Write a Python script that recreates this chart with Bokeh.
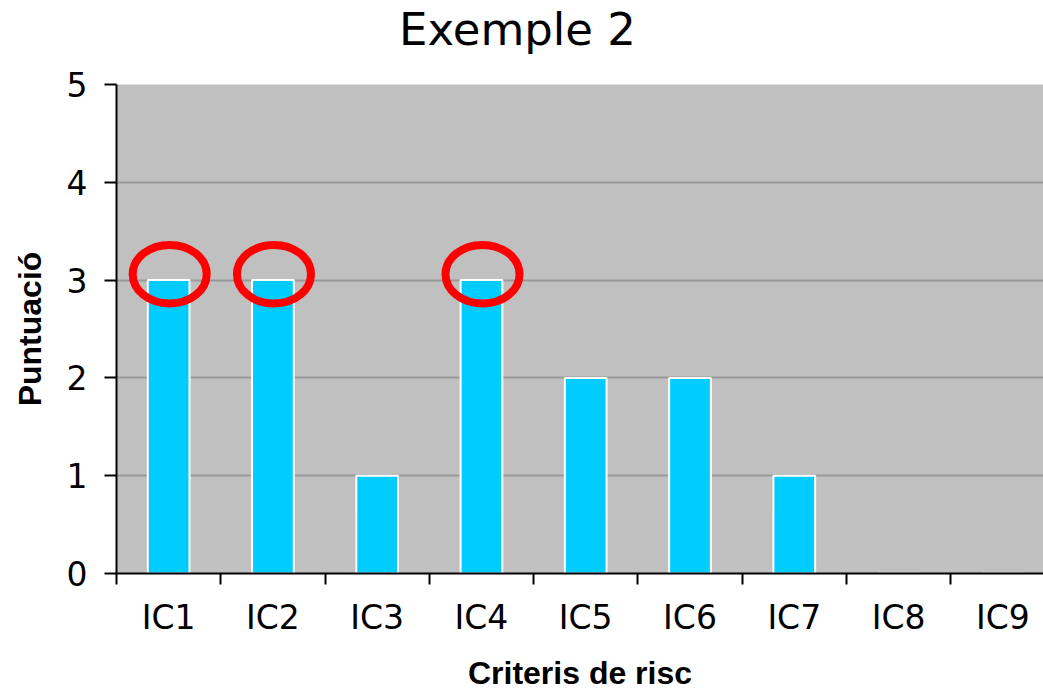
from bokeh.plotting import figure
from bokeh.layouts import column
from bokeh.models import Range1d, FixedTicker, LinearAxis, CustomJSTickFormatter, ColumnDataSource, Div
from bokeh.embed import file_html
from bokeh.resources import INLINE

cats = ["IC1", "IC2", "IC3", "IC4", "IC5", "IC6", "IC7", "IC8", "IC9"]
scores = [3, 3, 1, 3, 2, 2, 1, 0, 0]
highlighted = ["IC1", "IC2", "IC4"]
y_ticks = [0, 1, 2, 3, 4, 5]
title_text = "Exemple 2"

xs = [i + 0.5 for i in range(len(cats))]
src = ColumnDataSource(dict(x=xs, top=scores, cat=cats))
hx = [cats.index(c) + 0.51 for c in highlighted]
hy = [scores[cats.index(c)] + 0.06 for c in highlighted]

TITLE_H = 60
p = figure(width=1043, height=693 - TITLE_H, output_backend="svg", toolbar_location=None,
           x_range=Range1d(0, 8.89), y_range=Range1d(0, 5),
           min_border_left=116, min_border_right=0, min_border_top=84 - TITLE_H,
           min_border_bottom=110)

p.background_fill_color = "#c0c0c0"
p.border_fill_color = "white"
p.outline_line_color = None

p.vbar(x="x", top="top", width=0.40, bottom=0, source=src,
       fill_color="#00ccff", line_color="white", line_width=2)
p.ellipse(x=hx, y=hy, width=0.71, height=0.60, fill_color=None,
          line_color="#ff0000", line_width=8)

p.xgrid.visible = False
p.ygrid.ticker = FixedTicker(ticks=[1, 2, 3, 4])
p.ygrid.grid_line_color = "#999999"
p.ygrid.grid_line_width = 2

# y axis
ya = p.yaxis[0]
ya.ticker = FixedTicker(ticks=y_ticks)
ya.minor_tick_line_color = None
ya.major_tick_in = 0
ya.major_tick_out = 12
ya.major_tick_line_width = 2
ya.axis_line_width = 2
ya.major_label_text_font = "DejaVu Sans"
ya.major_label_text_font_size = "33px"
ya.major_label_text_color = "black"
ya.major_label_standoff = 17
ya.axis_label = "Puntuació"
ya.axis_label_text_font = "Liberation Sans"
ya.axis_label_text_font_style = "bold"
ya.axis_label_text_font_size = "32px"
ya.axis_label_text_color = "black"
ya.axis_label_standoff = 16

# boundary ticks axis
xa = p.xaxis[0]
xa.ticker = FixedTicker(ticks=list(range(len(cats) + 1)))
xa.formatter = CustomJSTickFormatter(code='return ""')
xa.minor_tick_line_color = None
xa.major_tick_in = 0
xa.major_tick_out = 11
xa.major_tick_line_width = 2
xa.axis_line_width = 2
xa.major_label_standoff = 0

# label axis
la = LinearAxis(ticker=FixedTicker(ticks=xs),
                formatter=CustomJSTickFormatter(args=dict(cats=cats),
                                                code="return cats[Math.floor(tick)] || ''"))
la.axis_line_color = None
la.major_tick_line_color = None
la.minor_tick_line_color = None
la.major_label_text_font = "DejaVu Sans"
la.major_label_text_font_size = "33px"
la.major_label_text_color = "black"
la.major_label_standoff = 7
la.axis_label = "Criteris de risc"
la.axis_label_text_font = "Liberation Sans"
la.axis_label_text_font_style = "bold"
la.axis_label_text_font_size = "32px"
la.axis_label_text_color = "black"
la.axis_label_standoff = 15
p.add_layout(la, "below")

title_div = Div(text=title_text, width=1035, height=TITLE_H,
                styles={"font-family": "DejaVu Sans", "font-size": "45px",
                        "line-height": "45px", "text-align": "center",
                        "color": "black", "padding-top": "7px", "margin": "0"})

layout = column(title_div, p, spacing=0)
open("out.html", "w").write(file_html(layout, INLINE))
